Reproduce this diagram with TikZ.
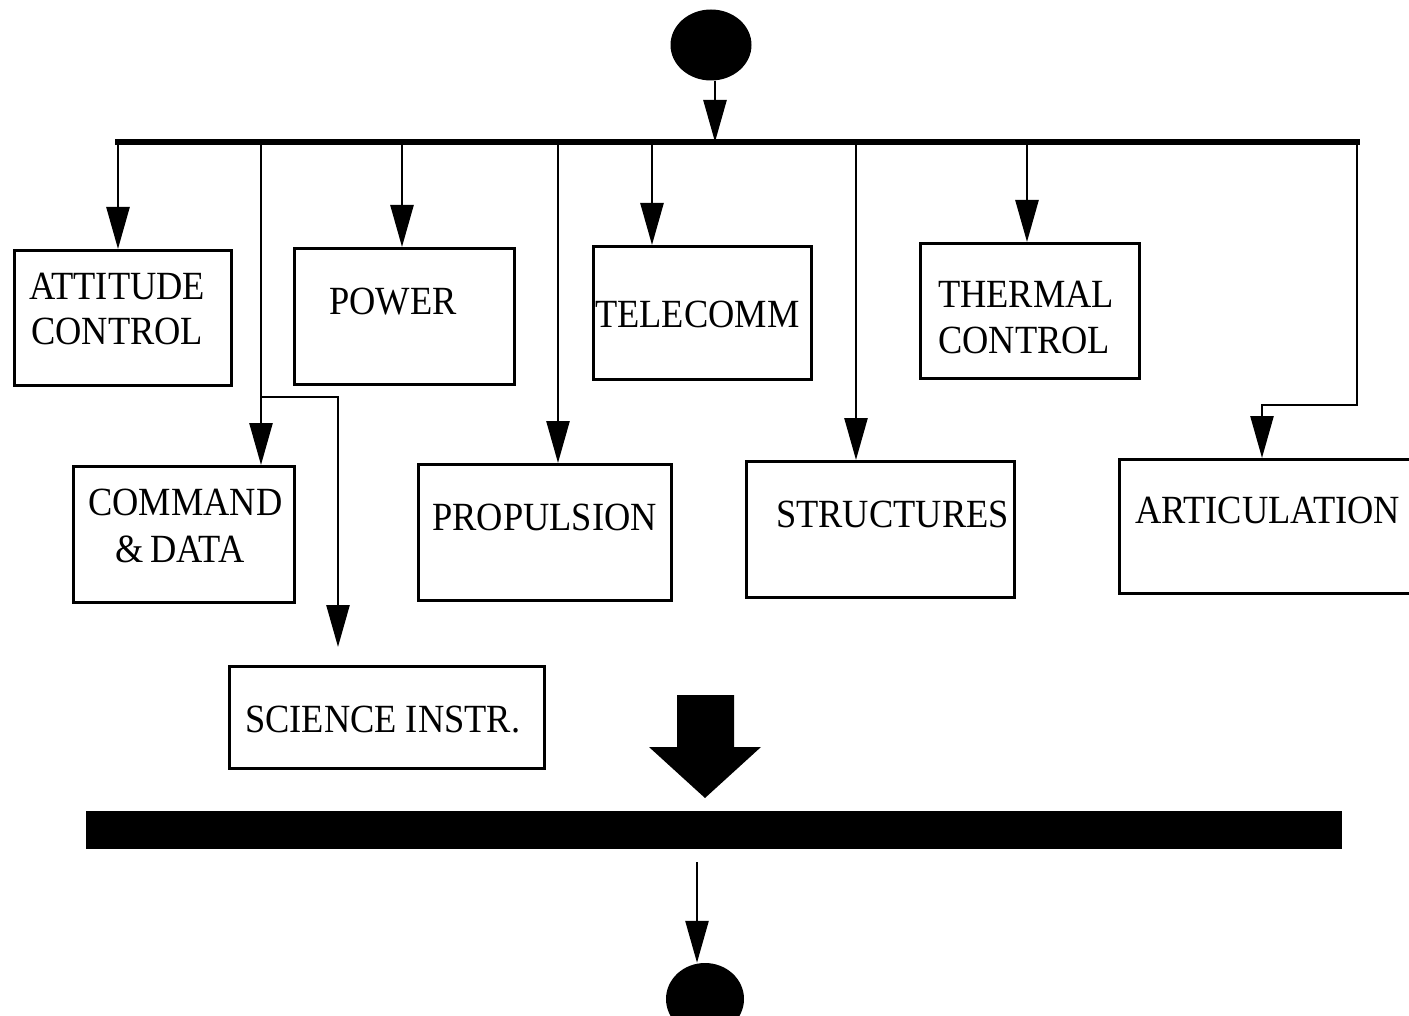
\documentclass[tikz,border=0pt]{standalone}
\usepackage{fontspec}
\setmainfont{Liberation Serif}[FakeStretch=0.91]
\usetikzlibrary{arrows.meta,shapes.geometric}
\begin{document}
\begin{tikzpicture}[x=1pt,y=-1pt,
  conn/.style={line width=2.6pt,-{Triangle[length=42pt,width=23pt]}},
  busline/.style={line width=6.5pt,line cap=rect},
  box/.style={draw,line width=3pt,rectangle,anchor=north west,inner sep=0pt},
  lbl/.style={anchor=base west,inner sep=0pt,font=\fontsize{40}{45}\selectfont},
  terminal/.style={ellipse,fill=black,inner sep=0pt}]
\clip (0,0) rectangle (1409,1016);

% initial and final states
\node[terminal,minimum width=81pt,minimum height=71pt] (start) at (711,45) {};
\node[terminal,minimum width=78pt,minimum height=72pt] (finish) at (705,999) {};

% subsystem boxes
\node[box,minimum width=217pt,minimum height=135pt] (att) at (13,249) {};
\node[box,minimum width=220pt,minimum height=136pt] (pow) at (293,247) {};
\node[box,minimum width=218pt,minimum height=133pt] (tel) at (592,245) {};
\node[box,minimum width=219pt,minimum height=135pt] (thm) at (919,242) {};
\node[box,minimum width=221pt,minimum height=136pt] (cmd) at (72,465) {};
\node[box,minimum width=253pt,minimum height=136pt] (pro) at (417,463) {};
\node[box,minimum width=268pt,minimum height=136pt] (str) at (745,460) {};
\node[box,minimum width=320pt,minimum height=134pt] (art) at (1118,458) {};
\node[box,minimum width=315pt,minimum height=102pt] (sci) at (228,665) {};

% labels
\node[lbl] at (29,300) {ATTITUDE};
\node[lbl] at (31,345) {CONTROL};
\node[lbl] at (329,315) {POWER};
\node[lbl] at (595,328) {TELECOMM};
\node[lbl] at (938,308) {THERMAL};
\node[lbl] at (938,354) {CONTROL};
\node[lbl] at (88,515) {COMMAND};
\node[lbl] at (115,562) {\&\,DATA};
\node[lbl] at (432,530) {PROPULSION};
\node[lbl] at (776,527) {STRUCTURES};
\node[lbl] at (1135,523) {ARTICULATION};
\node[lbl] at (245,732) {SCIENCE INSTR.};

% fork bus
\coordinate (busL) at (118,142);
\coordinate (busR) at (1357,142);
\draw[busline] (busL) -- (busR);
\draw[conn] ([xshift=4pt]start.south) -- ([xshift=4pt]start.south |- busL);

% branches from the bus
\draw[conn] (busL) -- (busL |- att.north);
\coordinate (tC) at (261,142);
\coordinate (split) at (261,397);
\coordinate (sciend) at (338,647);
\draw[conn] (tC) -- (tC |- cmd.north);
\draw[conn] (split) -| (sciend);
\coordinate (tP) at (402,142);
\draw[conn] (tP) -- (tP |- pow.north);
\coordinate (tR) at (558,142);
\draw[conn] (tR) -- (tR |- pro.north);
\coordinate (tT) at (652,142);
\draw[conn] (tT) -- (tT |- tel.north);
\coordinate (tS) at (856,142);
\draw[conn] (tS) -- (tS |- str.north);
\coordinate (tH) at (1027,142);
\draw[conn] (tH) -- (tH |- thm.north);
\coordinate (artx) at (1262,405);
\draw[conn] (busR) |- (artx) -- (artx |- art.north);

% join: block arrow into the synchronisation bar
\fill (677,695) -- (734,695) -- (734,747) -- (761,747) -- (705,798)
      -- (649,747) -- (677,747) -- cycle;
\node[fill=black,minimum width=1256pt,minimum height=38pt,inner sep=0pt] (bar) at (714,830) {};
\draw[conn] ([xshift=-17pt,yshift=-13pt]bar.south) coordinate (drop) -- (drop |- finish.north);
\end{tikzpicture}
\end{document}
